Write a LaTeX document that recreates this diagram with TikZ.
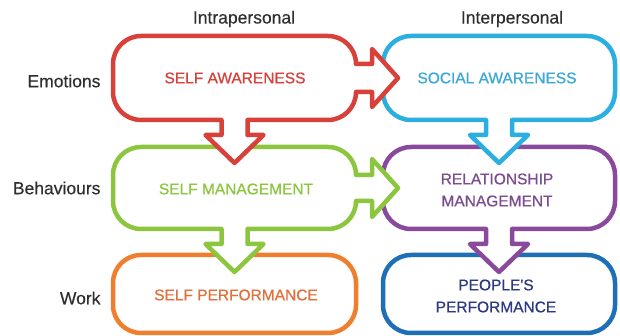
\documentclass[tikz,border=0pt]{standalone}
\usepackage{fontspec}
\setmainfont{Liberation Sans}
\newfontfamily\medfont[FakeBold=0.7]{Liberation Sans}
\newfontfamily\labfont[FakeBold=0.4]{Liberation Sans}
\usepackage{tikz}
\definecolor{awred}{HTML}{D8403A}
\definecolor{awblue}{HTML}{2BAEE0}
\definecolor{mggreen}{HTML}{8CC63F}
\definecolor{mgpurple}{HTML}{8A4A9C}
\definecolor{pforange}{HTML}{EF7F2F}
\definecolor{pfblue}{HTML}{1E6FB6}
\definecolor{pfnavy}{HTML}{2C3B80}
\definecolor{pftext}{HTML}{E2703A}
\definecolor{mgtext}{HTML}{7C4D8E}
\definecolor{awtext}{HTML}{3AA8D8}

\begin{document}
\begin{tikzpicture}[x=1pt, y=1pt,
	outline/.style={line width=4.5pt, fill=white, line join=round},
	boxtext/.style={font=\medfont\fontsize{15.5}{22}\selectfont, align=center},
	rowlabel/.style={font=\labfont\fontsize{17.5}{20}\selectfont, text=black!82, anchor=east},
	collabel/.style={font=\labfont\fontsize{17.5}{20}\selectfont, text=black!82}]
		%%%%% START %%%%%
		\useasboundingbox (0, 0) rectangle (620, 336);
		
		% bottom row
		\draw[outline, draw=pforange, rounded corners=28] (113, 3) rectangle (356, 81);
		\draw[outline, draw=pfblue, rounded corners=28] (383, 3) rectangle (615, 81);
		
		% middle row, right
		\draw[outline, draw=mgpurple] (411, 189) -- (587, 189) arc (90:0:28) -- (615, 135) arc (0:-90:28)
			-- (512, 107) -- (512, 92) -- (528, 92) -- (499, 64) -- (470, 92) -- (486, 92) -- (486, 107)
			-- (411, 107) arc (270:180:28) -- (383, 161) arc (180:90:28) -- cycle;
		
		% middle row, left
		\draw[outline, draw=mggreen] (141, 189) -- (328, 189) arc (90:0:28)
			-- (372, 161) -- (372, 177) -- (398, 148) -- (372, 119) -- (372, 135) -- (356, 135) arc (0:-90:28)
			-- (247.5, 107) -- (247.5, 92) -- (263.5, 92) -- (234.5, 64) -- (205.5, 92) -- (221.5, 92) -- (221.5, 107)
			-- (141, 107) arc (270:180:28) -- (113, 161) arc (180:90:28) -- cycle;
		
		% top row, right
		\draw[outline, draw=awblue] (411, 300) -- (587, 300) arc (90:0:28) -- (615, 244) arc (0:-90:28)
			-- (512, 216) -- (512, 201) -- (528, 201) -- (499, 173) -- (470, 201) -- (486, 201) -- (486, 216)
			-- (411, 216) arc (270:180:28) -- (383, 272) arc (180:90:28) -- cycle;
		
		% top row, left
		\draw[outline, draw=awred] (141, 300) -- (328, 300) arc (90:0:28)
			-- (372, 272) -- (372, 287) -- (398, 258) -- (372, 229) -- (372, 244) -- (356, 244) arc (0:-90:28)
			-- (247.5, 216) -- (247.5, 201) -- (263.5, 201) -- (234.5, 173) -- (205.5, 201) -- (221.5, 201) -- (221.5, 216)
			-- (141, 216) arc (270:180:28) -- (113, 272) arc (180:90:28) -- cycle;
		
		% texts
		\node[boxtext, text=awred] (selfaware) at (235, 258) {SELF AWARENESS};
		\node[boxtext, text=awtext] (socialaware) at (497, 258) {SOCIAL AWARENESS};
		\node[boxtext, text=mggreen] (selfmanage) at (236, 147) {SELF MANAGEMENT};
		\node[boxtext, text=mgtext] (relmanage) at (497, 146) {RELATIONSHIP\\MANAGEMENT};
		\node[boxtext, text=pftext] (selfperf) at (236, 41) {SELF PERFORMANCE};
		\node[boxtext, text=pfnavy] (peopleperf) at (496, 40) {PEOPLE'S\\PERFORMANCE};
		
		\node[collabel] (intra) at (244, 317) {Intrapersonal};
		\node[collabel] (inter) at (512, 317) {Interpersonal};
		\node[rowlabel] (emotions) at (104, 255) {Emotions};
		\node[rowlabel] (behaviours) at (104, 148) {Behaviours};
		\node[rowlabel] (work) at (104, 38) {Work};
		%%%%% END %%%%%
\end{tikzpicture}
\end{document}
